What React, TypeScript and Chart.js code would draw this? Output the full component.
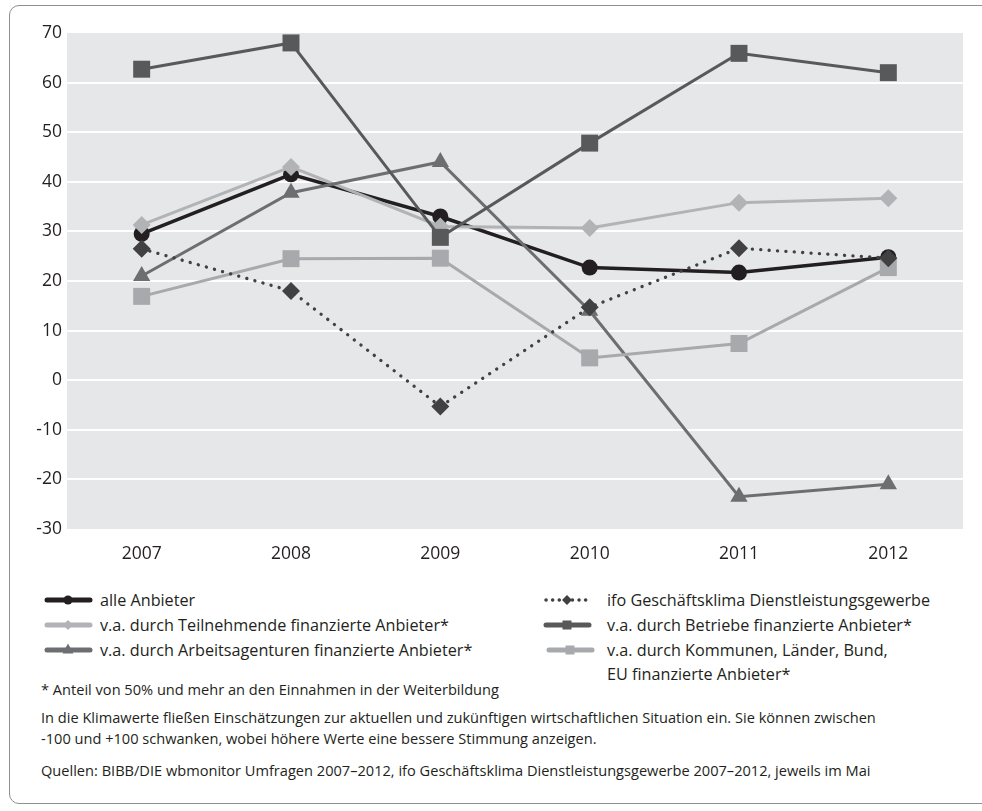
import React, { useEffect, useRef } from 'react';
import { Chart, registerables } from 'chart.js';

Chart.register(...registerables);

const years = ['2007', '2008', '2009', '2010', '2011', '2012'];
const yMin = -30;
const yMax = 70;
const yStep = 10;

const alleAnbieter = [29.5, 41.5, 33, 22.7, 21.7, 24.8];
const teilnehmende = [31.3, 43, 31, 30.7, 35.8, 36.7];
const arbeitsagenturen = [21, 37.8, 44, 14, -23.5, -21];
const ifoKlima = [26.5, 18, -5.3, 14.7, 26.6, 24.6];
const betriebe = [62.7, 68, 28.8, 47.8, 65.9, 62];
const kommunen = [16.9, 24.5, 24.6, 4.5, 7.4, 22.7];

const labelAlle = 'alle Anbieter';
const labelTeilnehmende = 'v.a. durch Teilnehmende finanzierte Anbieter*';
const labelArbeitsagenturen = 'v.a. durch Arbeitsagenturen finanzierte Anbieter*';
const labelIfo = 'ifo Geschäftsklima Dienstleistungsgewerbe';
const labelBetriebe = 'v.a. durch Betriebe finanzierte Anbieter*';
const labelKommunen1 = 'v.a. durch Kommunen, Länder, Bund,';
const labelKommunen2 = 'EU finanzierte Anbieter*';

const note1 = '* Anteil von 50% und mehr an den Einnahmen in der Weiterbildung';
const note2a = 'In die Klimawerte fließen Einschätzungen zur aktuellen und zukünftigen wirtschaftlichen Situation ein. Sie können zwischen';
const note2b = '-100 und +100 schwanken, wobei höhere Werte eine bessere Stimmung anzeigen.';
const note3 = 'Quellen: BIBB/DIE wbmonitor Umfragen 2007–2012, ifo Geschäftsklima Dienstleistungsgewerbe 2007–2012, jeweils im Mai';

const FONT = '"Open Sans", sans-serif';
const TEXT = '#231f20';

const C_ALLE = '#231f20';
const C_TEIL = '#b1b3b6';
const C_ARB = '#6d6e71';
const C_IFO = '#414042';
const C_BETR = '#58595b';
const C_KOMM = '#a7a9ac';

const bgPlugin = {
  id: 'plotBg',
  beforeDraw(chart: any) {
    const { ctx, chartArea } = chart;
    ctx.save();
    ctx.fillStyle = '#e6e7e8';
    ctx.fillRect(chartArea.left, chartArea.top, chartArea.right - chartArea.left, chartArea.bottom - chartArea.top);
    ctx.restore();
  },
};

function Sample({ kind }: { kind: string }) {
  const colors: Record<string, string> = {
    alle: C_ALLE, teil: C_TEIL, arb: C_ARB, ifo: C_IFO, betr: C_BETR, komm: C_KOMM,
  };
  const c = colors[kind];
  let marker: any = null;
  if (kind === 'alle') marker = <circle cx={24} cy={8} r={4.5} fill={c} />;
  if (kind === 'teil' || kind === 'ifo') marker = <polygon points="24,3 29,8 24,13 19,8" fill={c} />;
  if (kind === 'arb') marker = <polygon points="24,1.5 29.5,11.5 18.5,11.5" fill={c} />;
  if (kind === 'betr' || kind === 'komm') marker = <rect x={19.5} y={3.5} width={9} height={9} fill={c} />;
  return (
    <svg width={52} height={16} style={{ display: 'block' }}>
      {kind === 'ifo' ? (
        <line x1={3} y1={8} x2={46} y2={8} stroke={c} strokeWidth={3.5} strokeLinecap="round" strokeDasharray="0.1 6.5" />
      ) : (
        <line x1={3} y1={8} x2={46} y2={8} stroke={c} strokeWidth={5} strokeLinecap="round" />
      )}
      {marker}
    </svg>
  );
}

export default function App() {
  const ref = useRef<HTMLCanvasElement | null>(null);

  useEffect(() => {
    if (!ref.current) return;
    const mk = (label: string, data: number[], color: string, style: any, radius: number, width: number, extra: any = {}) => ({
      label,
      data,
      borderColor: color,
      backgroundColor: color,
      pointBackgroundColor: color,
      pointBorderColor: color,
      pointBorderWidth: 0,
      pointStyle: style,
      pointRadius: radius,
      borderWidth: width,
      tension: 0,
      fill: false,
      clip: false,
      ...extra,
    });
    const chart = new Chart(ref.current, {
      type: 'line',
      data: {
        labels: years,
        datasets: [
          mk(labelIfo, ifoKlima, C_IFO, 'rectRot', 9, 3.3, { borderDash: [0.1, 8.3], borderCapStyle: 'round' }),
          mk(labelKommunen1 + ' ' + labelKommunen2, kommunen, C_KOMM, 'rect', 12, 3),
          mk(labelBetriebe, betriebe, C_BETR, 'rect', 12, 3),
          mk(labelArbeitsagenturen, arbeitsagenturen, C_ARB, 'triangle', 10, 3),
          mk(labelTeilnehmende, teilnehmende, C_TEIL, 'rectRot', 9, 3),
          mk(labelAlle, alleAnbieter, C_ALLE, 'circle', 8, 3.5),
        ] as any,
      },
      options: {
        animation: false,
        responsive: false,
        maintainAspectRatio: false,
        events: [],
        layout: { padding: { top: 33, right: 19, left: 0, bottom: 0 } },
        plugins: { legend: { display: false }, tooltip: { enabled: false } },
        scales: {
          x: {
            type: 'category',
            offset: true,
            grid: { display: false },
            border: { display: false },
            ticks: { font: { family: FONT, size: 17.5 }, color: TEXT, padding: 7, maxRotation: 0 },
            afterFit(s: any) { s.height = 41; },
          },
          y: {
            min: yMin,
            max: yMax,
            border: { display: false },
            grid: {
              drawTicks: false,
              lineWidth: 2,
              color: (ctx: any) => (ctx.tick && (ctx.tick.value === yMin || ctx.tick.value === yMax) ? 'rgba(0,0,0,0)' : '#ffffff'),
            },
            ticks: { stepSize: yStep, font: { family: FONT, size: 17.5 }, color: TEXT, padding: 5 },
            afterFit(s: any) { s.width = 67; },
          },
        },
      } as any,
      plugins: [bgPlugin],
    });
    return () => chart.destroy();
  }, []);

  const rowY = [600, 625, 650];
  const LH = 24;
  const legendText: React.CSSProperties = { position: 'absolute', fontFamily: FONT, fontSize: 16.2, color: TEXT, lineHeight: LH + 'px', whiteSpace: 'nowrap' };
  const noteStyle: React.CSSProperties = { position: 'absolute', left: 41, fontFamily: FONT, fontSize: 14.6, color: TEXT, whiteSpace: 'nowrap' };

  const leftItems = [
    { kind: 'alle', text: labelAlle },
    { kind: 'teil', text: labelTeilnehmende },
    { kind: 'arb', text: labelArbeitsagenturen },
  ];
  const rightItems = [
    { kind: 'ifo', text: labelIfo },
    { kind: 'betr', text: labelBetriebe },
  ];

  return (
    <div style={{ position: 'absolute', left: 0, top: 0, width: 982, height: 811, overflow: 'hidden', background: '#fff' }}>
      <div style={{ position: 'absolute', left: 9, top: 5, width: 1100, height: 799, border: '1.5px solid #8f8f8f', borderRadius: 10, boxSizing: 'border-box' }} />
      <canvas ref={ref} width={982} height={570} style={{ position: 'absolute', left: 0, top: 0, width: 982, height: 570 }} />
      {leftItems.map((it, i) => (
        <React.Fragment key={'l' + i}>
          <div style={{ position: 'absolute', left: 44, top: rowY[i] - 8 }}><Sample kind={it.kind} /></div>
          <div style={{ ...legendText, left: 100, top: rowY[i] - LH / 2 }}>{it.text}</div>
        </React.Fragment>
      ))}
      {rightItems.map((it, i) => (
        <React.Fragment key={'r' + i}>
          <div style={{ position: 'absolute', left: 543, top: rowY[i] - 8 }}><Sample kind={it.kind} /></div>
          <div style={{ ...legendText, left: 607, top: rowY[i] - LH / 2 }}>{it.text}</div>
        </React.Fragment>
      ))}
      <div style={{ position: 'absolute', left: 546, top: rowY[2] - 8 }}><Sample kind="komm" /></div>
      <div style={{ ...legendText, left: 607, top: rowY[2] - LH / 2 }}>{labelKommunen1}<br />{labelKommunen2}</div>

      <div style={{ ...noteStyle, top: 689 - 11, lineHeight: '22px' }}>{note1}</div>
      <div style={{ ...noteStyle, top: 718 - 11, lineHeight: '21px' }}>{note2a}<br />{note2b}</div>
      <div style={{ ...noteStyle, top: 770 - 11, lineHeight: '22px' }}>{note3}</div>
    </div>
  );
}
